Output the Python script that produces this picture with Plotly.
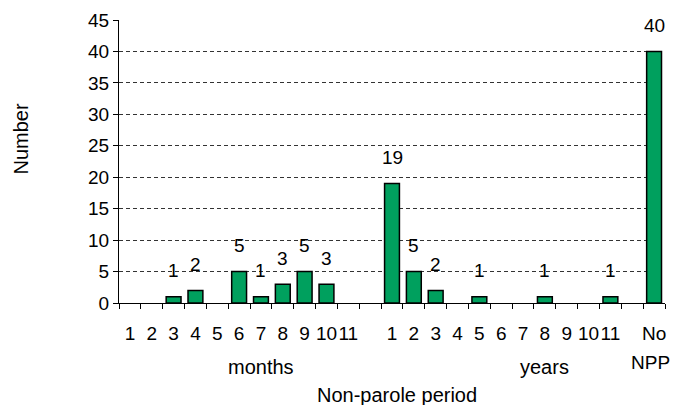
import plotly.graph_objects as go

# Data
months = ["1", "2", "3", "4", "5", "6", "7", "8", "9", "10", "11"]
month_counts = [0, 0, 1, 2, 0, 5, 1, 3, 5, 3, 0]
years = ["1", "2", "3", "4", "5", "6", "7", "8", "9", "10", "11"]
year_counts = [19, 5, 2, 0, 1, 0, 0, 1, 0, 0, 1]
no_npp_label = "No"
no_npp_count = 40

tick_labels = months + [""] + years + [""] + [no_npp_label]
values = month_counts + [None] + year_counts + [None] + [no_npp_count]
xpos = list(range(len(tick_labels)))

FONT = "Liberation Sans, Arial, sans-serif"
FS = 19
FT = 20
BAR_COLOR = "#00A05E"

fig = go.Figure()
fig.add_trace(go.Bar(
    x=xpos, y=values, width=0.68,
    marker=dict(color=BAR_COLOR,
                line=dict(color="black", width=[1.5 if v else 0 for v in values])),
    showlegend=False, hoverinfo="skip",
))

annotations = []
for x, v in zip(xpos, values):
    if v:
        annotations.append(dict(x=x, y=v, xref="x", yref="y", text=str(v),
                                showarrow=False, yshift=26, yanchor="middle",
                                font=dict(size=FS, color="black", family=FONT)))

# page offset of 8px (body margin) is compensated in sizes
def py(p):
    return (303.3 - p) / 283.3

annotations += [
    dict(x=24, y=py(363), xref="x", yref="paper", text="NPP", showarrow=False,
         xshift=-4, yanchor="middle", font=dict(size=FS, color="black", family=FONT)),
    dict(x=6, y=py(367), xref="x", yref="paper", text="months", showarrow=False,
         yanchor="middle", font=dict(size=FT, color="black", family=FONT)),
    dict(x=19, y=py(367), xref="x", yref="paper", text="years", showarrow=False,
         yanchor="middle", font=dict(size=FT, color="black", family=FONT)),
    dict(x=0.51, y=py(395), xref="paper", yref="paper", text="Non-parole period",
         showarrow=False, yanchor="middle", font=dict(size=FT, color="black", family=FONT)),
    dict(x=(21 - 119.3) / 545.7, y=py(139), xref="paper", yref="paper", text="Number",
         showarrow=False, textangle=-90, xanchor="center", yanchor="middle",
         font=dict(size=FT, color="black", family=FONT)),
]

fig.update_layout(
    width=671, height=397,
    margin=dict(l=111, r=14, t=12, b=102, autoexpand=False),
    paper_bgcolor="white", plot_bgcolor="white",
    bargap=0.3,
    font=dict(family=FONT, size=FS, color="black"),
    annotations=annotations,
    xaxis=dict(
        range=[-0.5, 24.5], tickmode="array", tickvals=xpos, ticktext=tick_labels,
        tickangle=0, automargin=False,
        ticks="outside", ticklen=13, tickcolor="rgba(0,0,0,0)",
        showline=True, linecolor="black", linewidth=1,
        showgrid=False, zeroline=False,
        minor=dict(tickmode="linear", tick0=-0.5, dtick=1, ticks="outside",
                   ticklen=5, tickcolor="black", tickwidth=1, showgrid=False),
        tickfont=dict(size=FS, color="black", family=FONT),
    ),
    yaxis=dict(
        range=[0, 45], tickmode="linear", tick0=0, dtick=5, automargin=False,
        ticks="outside", ticklen=5, tickcolor="black",
        showline=True, linecolor="black", linewidth=1,
        showgrid=True, gridcolor="#333333", gridwidth=1, griddash="4px,3px",
        zeroline=False,
        tickfont=dict(size=FS, color="black", family=FONT),
    ),
)

fig.write_html("out.html")
